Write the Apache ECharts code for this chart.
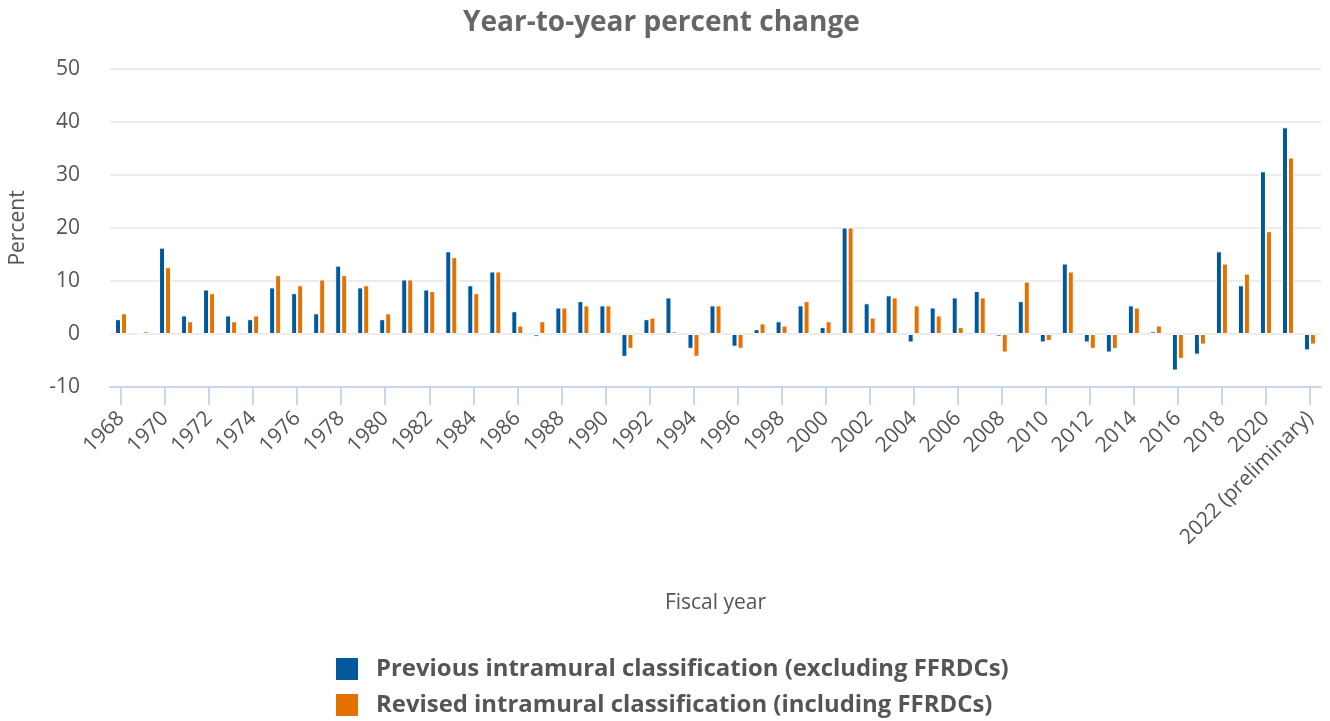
<!DOCTYPE html>
<html>
<head>
<meta charset="utf-8">
<script src="https://cdn.jsdelivr.net/npm/echarts@6/dist/echarts.min.js"></script>
<style>
html,body{margin:0;padding:0;background:#fff;}
#chart{width:1330px;height:721px;}
</style>
</head>
<body>
<div id="chart"></div>
<script>
const years = ['1968','1969','1970','1971','1972','1973','1974','1975','1976','1977',
  '1978','1979','1980','1981','1982','1983','1984','1985','1986','1987',
  '1988','1989','1990','1991','1992','1993','1994','1995','1996','1997',
  '1998','1999','2000','2001','2002','2003','2004','2005','2006','2007',
  '2008','2009','2010','2011','2012','2013','2014','2015','2016','2017',
  '2018','2019','2020','2021','2022 (preliminary)'];

const previousExcl = [2.8,0,16.3,3.5,8.4,3.5,2.8,8.8,7.7,3.9,
  12.9,8.8,2.8,10.3,8.4,15.6,9.2,11.8,4.3,-0.5,
  5.0,6.2,5.4,-4.3,2.8,6.9,-2.8,5.4,-2.4,0.9,
  2.4,5.4,1.3,20.1,5.8,7.3,-1.6,5.0,6.9,8.1,
  -0.5,6.2,-1.6,13.3,-1.6,-3.5,5.4,0.5,-6.9,-3.9,
  15.6,9.2,30.7,39.0,-3.1];

const revisedIncl = [3.9,0.5,12.6,2.4,7.7,2.4,3.5,11.1,9.2,10.3,
  11.1,9.2,3.9,10.3,8.1,14.5,7.7,11.8,1.6,2.4,
  5.0,5.4,5.4,-2.8,3.1,0.5,-4.3,5.4,-2.8,2.0,
  1.6,6.2,2.4,20.1,3.1,6.9,5.4,3.5,1.3,6.9,
  -3.5,9.9,-1.3,11.8,-2.8,-2.8,5.0,1.6,-4.7,-2.0,
  13.3,11.4,19.4,33.3,-2.0];

const seriesNames = ['Previous intramural classification (excluding FFRDCs)',
  'Revised intramural classification (including FFRDCs)'];
const yTicks = {min: -10, max: 50, interval: 10};

const chart = echarts.init(document.getElementById('chart'), null, {renderer: 'canvas'});
const FONT = '"Open Sans", "Noto Sans", sans-serif';
const legendText = {fontFamily: FONT, fontSize: 23.9, fontWeight: 'bold', color: '#555555', padding: [0,0,0,12]};
chart.setOption({
  animation: false,
  textStyle: {fontFamily: FONT},
  title: {
    text: 'Year-to-year percent change',
    left: 458,
    top: 4,
    textStyle: {fontFamily: FONT, fontSize: 28, fontWeight: 'bold', color: '#666666'}
  },
  legend: [
    {
      left: 329, top: 651, itemWidth: 24, itemHeight: 24, icon: 'rect',
      data: [seriesNames[0]], textStyle: legendText
    },
    {
      left: 329, top: 687, itemWidth: 24, itemHeight: 24, icon: 'rect',
      data: [seriesNames[1]], textStyle: legendText
    }
  ],
  grid: {left: 109, right: 9, top: 69, bottom: 334, containLabel: false},
  xAxis: {
    type: 'category',
    data: years,
    boundaryGap: true,
    name: 'Fiscal year',
    nameLocation: 'middle',
    nameGap: 206,
    nameTextStyle: {fontFamily: FONT, fontSize: 21, color: '#555555', verticalAlign: 'top'},
    axisLine: {show: true, onZero: false, lineStyle: {color: '#ccd6eb', width: 2}},
    axisTick: {show: true, interval: 1, alignWithLabel: true, length: 18, lineStyle: {color: '#ccd6eb', width: 2}},
    axisLabel: {interval: 1, rotate: 45, margin: 28, fontFamily: FONT, fontSize: 21, color: '#555555'},
    splitLine: {show: false}
  },
  yAxis: {
    type: 'value',
    min: yTicks.min,
    max: yTicks.max,
    interval: yTicks.interval,
    name: 'Percent',
    nameLocation: 'middle',
    nameGap: 81,
    nameTextStyle: {fontFamily: FONT, fontSize: 21, color: '#555555'},
    axisLine: {show: false},
    axisTick: {show: false},
    axisLabel: {margin: 30, fontFamily: FONT, fontSize: 21, color: '#555555'},
    splitLine: {lineStyle: {color: '#e6e6e6', width: 1.5}}
  },
  series: [
    {
      name: seriesNames[0],
      type: 'bar',
      data: previousExcl,
      barWidth: 6,
      barGap: '0%',
      itemStyle: {color: '#00599c', borderColor: '#ffffff', borderWidth: 1}
    },
    {
      name: seriesNames[1],
      type: 'bar',
      data: revisedIncl,
      barWidth: 6,
      barGap: '0%',
      itemStyle: {color: '#e57200', borderColor: '#ffffff', borderWidth: 1}
    }
  ]
});
</script>
</body>
</html>
